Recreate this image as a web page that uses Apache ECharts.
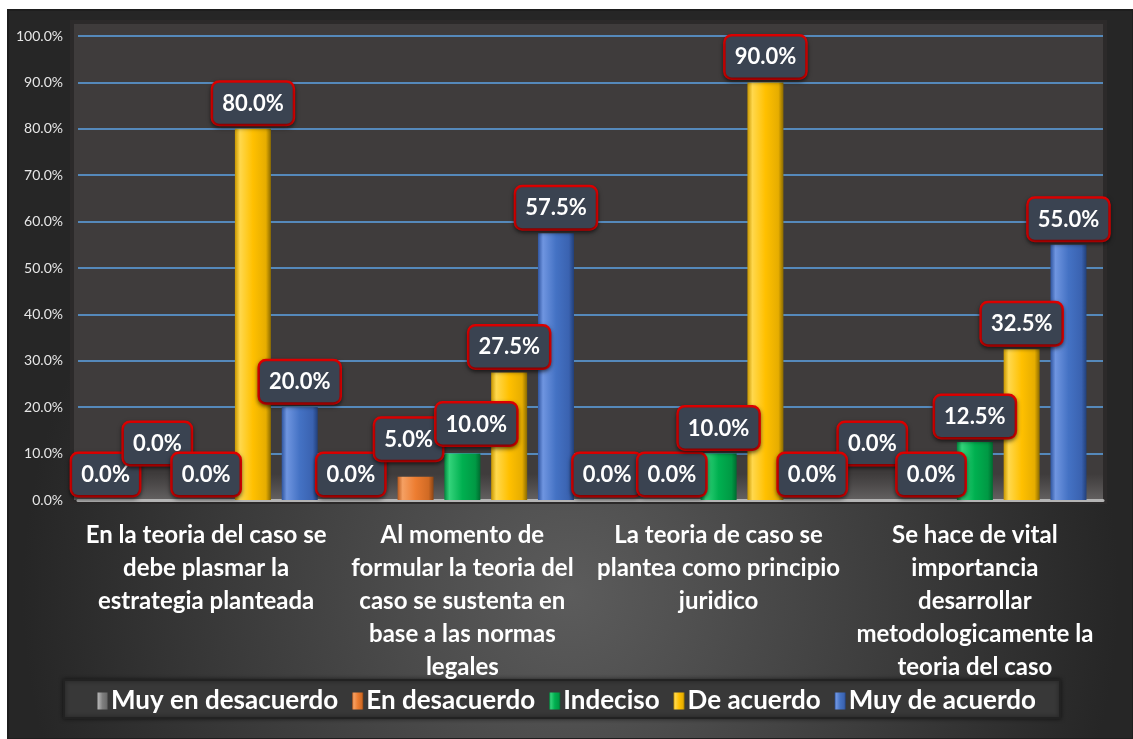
<!DOCTYPE html>
<html>
<head>
<meta charset="utf-8">
<script src="https://cdn.jsdelivr.net/npm/echarts@6/dist/echarts.min.js"></script>
<style>
  html, body { margin: 0; padding: 0; background: #fff; }
  #chart { width: 1133px; height: 739px; }
</style>
</head>
<body>
<div id="chart"></div>
<script>
// categorias (texto del eje x, ya partido en lineas)
const categories = [
  "En la teoria del caso se\ndebe plasmar la\nestrategia planteada",
  "Al momento de\nformular la teoria del\ncaso se sustenta en\nbase a las normas\nlegales",
  "La teoria de caso se\nplantea como principio\njuridico",
  "Se hace de vital\nimportancia\ndesarrollar\nmetodologicamente la\nteoria del caso"
];
const seriesNames = ["Muy en desacuerdo", "En desacuerdo", "Indeciso", "De acuerdo", "Muy de acuerdo"];
// valores en porcentaje
const muyEnDesacuerdo = [0, 0, 0, 0];
const enDesacuerdo = [0, 5, 0, 0];
const indeciso = [0, 10, 10, 12.5];
const deAcuerdo = [80, 27.5, 90, 32.5];
const muyDeAcuerdo = [20, 57.5, 0, 55];
const yTicks = [0, 10, 20, 30, 40, 50, 60, 70, 80, 90, 100];

const values = [muyEnDesacuerdo, enDesacuerdo, indeciso, deAcuerdo, muyDeAcuerdo];

// colores tipo bisel (izq, brillo, base, sombra, der)
const palette = [
  ["#5a5a5a", "#b0b0b0", "#7f7f7f", "#6e6e6e", "#444444"],
  ["#b85a1e", "#f5a063", "#ed7d31", "#d06a24", "#8a4414"],
  ["#008a3e", "#33d37a", "#00b050", "#009944", "#006b30"],
  ["#c99700", "#ffd84d", "#ffc000", "#e6ad00", "#8a6a00"],
  ["#2f55a0", "#6f95e0", "#4472c4", "#3a62b0", "#22407a"]
];

// pequeños desplazamientos de etiquetas (como en el original de Excel)
const labelNudge = {
  "0-0": [-7, 0], "0-1": [-18, 0], "0-2": [-18, 0], "0-3": [-9, -31],
  "1-0": [-2, -31], "1-1": [-7, -12], "1-3": [3, 0],
  "2-1": [14, -4]
};

const chart = echarts.init(document.getElementById("chart"));

function bevel(c) {
  return new echarts.graphic.LinearGradient(0, 0, 1, 0, [
    { offset: 0, color: c[0] },
    { offset: 0.14, color: c[1] },
    { offset: 0.5, color: c[2] },
    { offset: 0.86, color: c[3] },
    { offset: 1, color: c[4] }
  ]);
}

const series = seriesNames.map(function (name, i) {
  return {
    name: name,
    type: "bar",
    barWidth: 36,
    barGap: "30%",
    data: values[i],
    itemStyle: { color: bevel(palette[i]) },
    label: {
      show: true,
      position: "top",
      distance: 5,
      formatter: function (p) { return p.value.toFixed(1) + "%"; },
      color: "#fff",
      fontFamily: "Lato",
      fontWeight: "bold",
      fontSize: 22,
      backgroundColor: "#3a4351",
      borderColor: "#e10000",
      borderWidth: 2.5,
      borderRadius: 6,
      padding: [10, 9, 9, 9],
      shadowColor: "rgba(0,0,0,0.5)",
      shadowBlur: 4,
      shadowOffsetY: 2
    },
    labelLayout: function (params) {
      const n = labelNudge[params.seriesIndex + "-" + params.dataIndex];
      return n ? { dx: n[0], dy: n[1] } : {};
    },
    z: 3
  };
});

const option = {
  backgroundColor: "#ffffff",
  animation: false,
  graphic: [
    {
      type: "rect",
      z: -10,
      shape: { x: 8, y: 10, width: 1125, height: 729 },
      style: {
        fill: new echarts.graphic.RadialGradient(0.5, 0.8, 0.75, [
          { offset: 0, color: "#5c5c5c" },
          { offset: 1, color: "#262626" }
        ]),
        stroke: "#1e1e1e",
        lineWidth: 2
      }
    },
    {
      type: "rect",
      z: -9,
      shape: { x: 72, y: 22, width: 1033, height: 480 },
      style: {
        fill: "#3f3c3c",
        stroke: "#2c2a2a",
        lineWidth: 4
      }
    },
    {
      type: "rect",
      z: -8,
      shape: { x: 74, y: 474, width: 1029, height: 26 },
      style: {
        fill: new echarts.graphic.LinearGradient(0, 0, 0, 1, [
          { offset: 0, color: "rgba(120,118,118,0)" },
          { offset: 1, color: "rgba(130,128,128,0.55)" }
        ])
      }
    },
    {
      type: "rect",
      z: -7,
      shape: { x: 64, y: 680, width: 996, height: 38 },
      style: {
        fill: "#383838",
        stroke: "#222",
        lineWidth: 2,
        shadowColor: "rgba(0,0,0,0.5)",
        shadowBlur: 4
      }
    }
  ],
  legend: {
    data: seriesNames,
    left: "center",
    top: 683,
    itemWidth: 11,
    itemHeight: 17,
    itemGap: 14,
    icon: "rect",
    textStyle: {
      color: "#fff",
      fontFamily: "Lato",
      fontWeight: "bold",
      fontSize: 26,
      padding: [0, 0, 0, -2]
    }
  },
  grid: {
    left: 78,
    right: 30,
    top: 36,
    bottom: 239,
    containLabel: false
  },
  xAxis: {
    type: "category",
    data: categories,
    axisLine: { show: true, lineStyle: { color: "#b4b4b4", width: 3 } },
    axisTick: { show: false },
    axisLabel: {
      color: "#fff",
      fontFamily: "Lato",
      fontWeight: "bold",
      fontSize: 24,
      lineHeight: 33,
      margin: 19,
      interval: 0
    }
  },
  yAxis: {
    type: "value",
    min: yTicks[0],
    max: yTicks[yTicks.length - 1],
    interval: yTicks[1] - yTicks[0],
    axisLine: { show: false },
    axisTick: { show: false },
    axisLabel: {
      color: "#e6e6e6",
      fontFamily: "Lato",
      fontSize: 14,
      margin: 15,
      formatter: function (v) { return v.toFixed(1) + "%"; }
    },
    splitLine: { lineStyle: { color: "#5ea3e6", width: 1.5 } }
  },
  series: series
};

chart.setOption(option);
</script>
</body>
</html>
